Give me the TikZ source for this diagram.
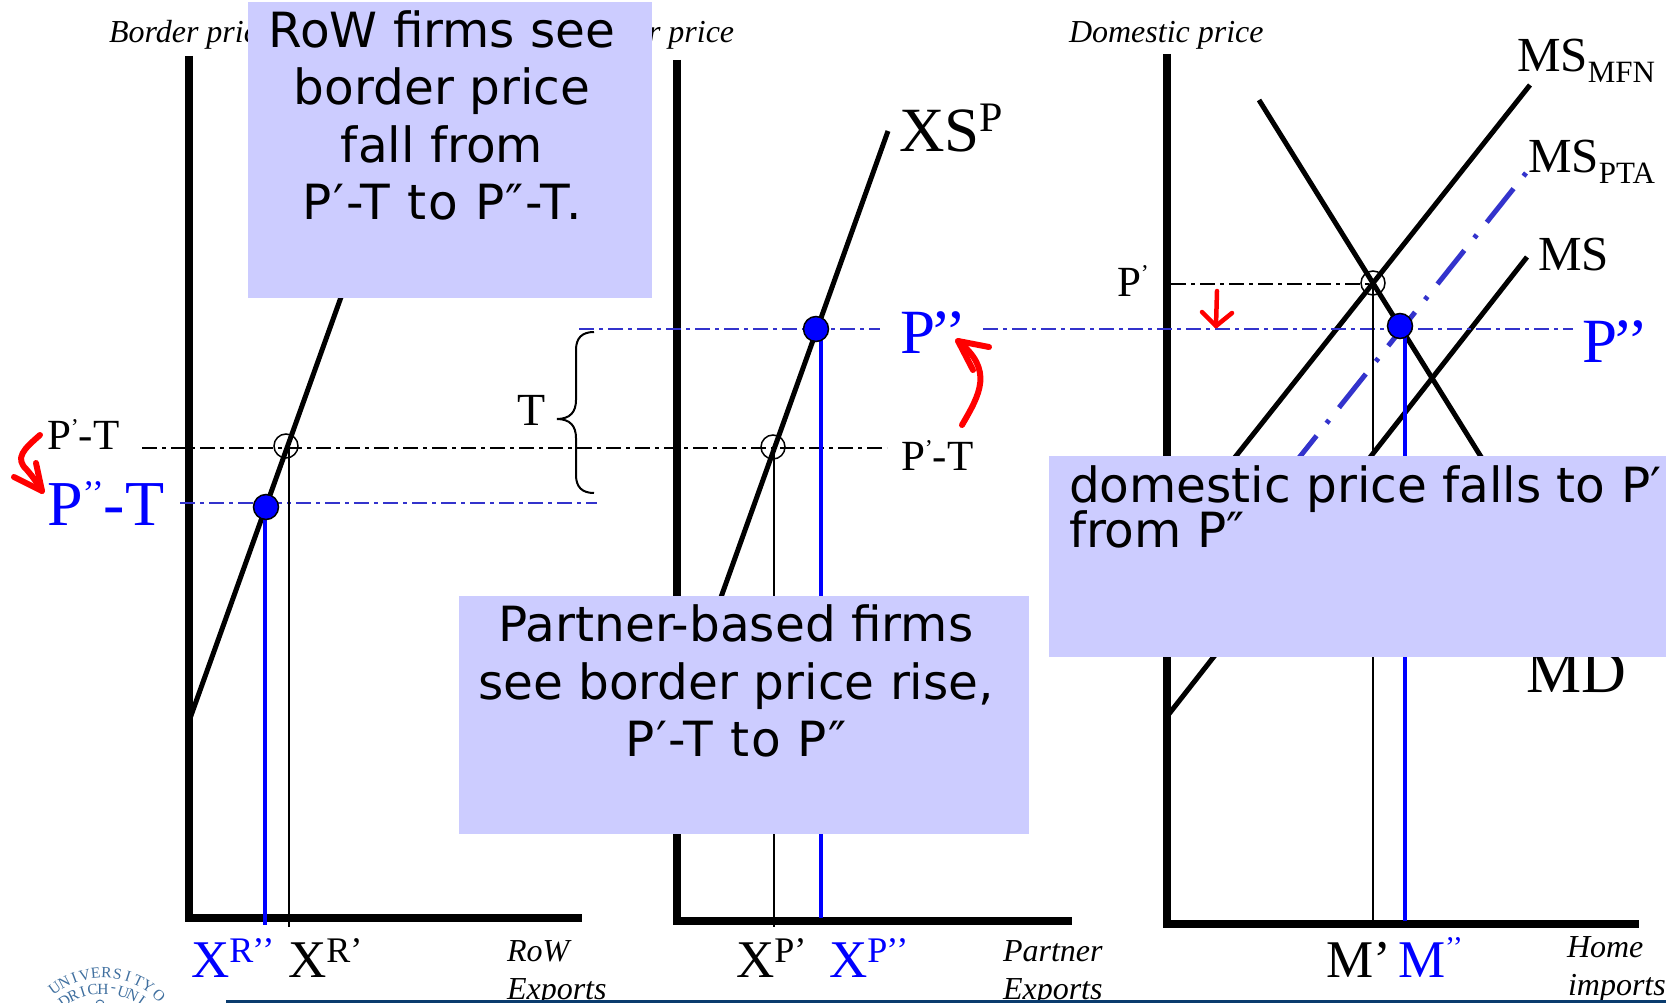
\documentclass[tikz,border=0pt]{standalone}
\usepackage{fontspec}
\setmainfont{Liberation Serif}
\newfontfamily\boxfont{DejaVu Sans}
\newcommand{\sz}[1]{\fontsize{#1}{#1}\selectfont}
\newcommand{\upmark}[3]{\raisebox{#1}{\sz{#2}#3}}
\definecolor{ddblue}{HTML}{3333CC}
\definecolor{boxfill}{HTML}{CCCCFF}
\definecolor{navy}{HTML}{0A3C6E}
\definecolor{logoblue}{HTML}{3F6F9F}
\tikzset{
  lab/.style={anchor=base west,inner sep=0pt,outer sep=0pt},
  axisline/.style={line width=8pt,line cap=butt,line join=miter},
  curve/.style={line width=5pt,line cap=butt},
  ddblack/.style={line width=2pt,dash pattern=on 15pt off 5pt on 4pt off 5pt},
  ddbluel/.style={line width=2pt,color=ddblue,dash pattern=on 15pt off 5pt on 4pt off 5pt},
  ptaline/.style={line width=5pt,color=ddblue,dash pattern=on 4pt off 16pt on 43pt off 16pt},
  vblack/.style={line width=2pt},
  vblue/.style={line width=4pt,color=blue},
  opendot/.style={circle,draw=black,line width=1.5pt,minimum size=24pt,inner sep=0pt},
  bluedot/.style={circle,draw=black,fill=blue,line width=1.5pt,minimum size=25pt,inner sep=0pt},
  redarrow/.style={draw=red,line width=6pt,line cap=round,line join=round},
  bluebox/.style={fill=boxfill,draw=none},
  boxtext/.style={inner sep=0pt,outer sep=0pt,font=\boxfont\sz{48.5}},
  logochar/.style={inner sep=0pt,text=logoblue,font=\sz{15.5}},
}
\begin{document}
\begin{tikzpicture}[x=1pt,y=-1pt]
\clip (0,0) rectangle (1666,1003);
\fill[white] (0,0) rectangle (1666,1003);

% logo
\foreach \c [count=\i] in {U,N,I,V,E,R,S,I,T,Y}{
  \pgfmathsetmacro{\a}{-35.5+7.6*(\i-1)}
  \node[logochar,rotate=-\a] (lo\i) at ({103+83*sin(\a)},{1056-83*cos(\a)}) {\c};
}
\node[logochar,rotate=-43] (loO) at ({103+82*sin(43)},{1056-82*cos(43)}) {O};
\foreach \c [count=\i] in {D,R,I,C,H,-,U,N,I}{
  \pgfmathsetmacro{\a}{-35+8.75*(\i-1)}
  \node[logochar,rotate=-\a] (li\i) at ({103+67*sin(\a)},{1056-67*cos(\a)}) {\c};
}
\draw[logoblue,line width=1pt] (100,1004) circle (4);

% axes
\draw[axisline] (189,56) -- (189,918) -- (582,918);
\draw[axisline] (677,60) -- (677,921) -- (1072,921);
\draw[axisline] (1167,54) -- (1167,924) -- (1639,924);

% supply / demand
\draw[curve] (188,724) -- (345,286);
\draw[curve] (677,720) -- (888,131);
\draw[curve] (1530,85) -- (1167,543);
\draw[curve] (1527,257) -- (1165,719);
\draw[curve] (1259,100) -- (1595,640);
\draw[ptaline] (1526,173) -- (1200,582);

% price lines
\draw[ddblack] (142,448) -- (887,448);
\draw[ddblack] (1171,284) -- (1373,284);
\draw[ddbluel] (180,503) -- (597,503);
\draw[ddbluel] (579,329) -- (880,329);
\draw[ddbluel] (983,329) -- (1573,329);

% drop lines
\draw[vblack] (289,448) -- (289,927);
\draw[vblue] (265,507) -- (265,925);
\draw[vblack] (774,447) -- (774,927);
\draw[vblue] (821,329) -- (821,918);
\draw[vblack] (1373,283) -- (1373,928);
\draw[vblue] (1405,330) -- (1405,921);

% dots
\node[opendot] (o1) at (286,446) {};
\node[opendot] (o2) at (773,447) {};
\node[opendot] (o3) at (1373,283) {};
\node[bluedot] (b1) at (266,507) {};
\node[bluedot] (b2) at (816,329) {};
\node[bluedot] (b3) at (1400,326) {};

% brace
\draw[line width=2pt] (594,332) .. controls (582,332) and (576,338) .. (576,350)
  -- (576,400) .. controls (576,412) and (570,419) .. (557,419)
  .. controls (570,419) and (576,426) .. (576,438)
  -- (576,475) .. controls (576,487) and (582,493) .. (594,493);

% red arrows
\draw[redarrow] (40,435) .. controls (24,449) and (14,458) .. (27,470) .. controls (33,477) and (38,484) .. (42,491);
\draw[redarrow] (14,477) -- (42,491) -- (36,463);
\draw[redarrow] (962,425) .. controls (980,394) and (994,370) .. (958,341);
\draw[redarrow] (989,347) -- (958,341) -- (973,370);
\draw[redarrow,line width=4.5pt] (1217,291) -- (1216,326);
\draw[redarrow,line width=4.5pt] (1202,312) -- (1216,326) -- (1232,313);

% axis captions
\node[lab,font=\itshape\sz{32}] (t1) at (109,43) {Border price};
\node[lab,font=\itshape\sz{32}] (t2) at (571,43) {Border price};
\node[lab,font=\itshape\sz{32}] (t3) at (1069,43) {Domestic price};
\node[lab,font=\itshape\sz{32}] (t4) at (507,961) {RoW};
\node[lab,font=\itshape\sz{32}] (t5) at (507,999) {Exports};
\node[lab,font=\itshape\sz{32}] (t6) at (1003,961) {Partner};
\node[lab,font=\itshape\sz{32}] (t7) at (1003,999) {Exports};
\node[lab,font=\itshape\sz{32}] (t8) at (1567,957) {Home};
\node[lab,font=\itshape\sz{32}] (t9) at (1568,995) {imports};

% price labels
\node[lab,font=\sz{43}] (p1) at (47,449) {P\upmark{14pt}{24}{’}-T};
\node[lab,font=\sz{64},text=blue] (p2) at (47,525) {P\upmark{20pt}{36}{’’}-T};
\node[lab,font=\sz{46}] (p3) at (517,425) {T};
\node[lab,font=\sz{43}] (p4) at (901,470) {P\upmark{14pt}{24}{’}-T};
\node[lab,font=\sz{63},text=blue] (p5) at (900,353) {P\kern-5pt’\kern-6pt’};
\node[lab,font=\sz{63},text=blue] (p6) at (1582,362) {P\kern-5pt’\kern-6pt’};
\node[lab,font=\sz{43}] (p7) at (1117,296) {P\upmark{14pt}{24}{’}};

% curve labels
\node[lab,font=\sz{63}] (c1) at (899,152) {XS\upmark{20pt}{42}{P}};
\node[lab,font=\sz{49}] (c2) at (1517,72) {MS\raisebox{-11pt}{\sz{31}MFN}};
\node[lab,font=\sz{49}] (c3) at (1528,173) {MS\raisebox{-11pt}{\sz{31}PTA}};
\node[lab,font=\sz{49}] (c4) at (1538,271) {MS};
\node[lab,font=\sz{62}] (c5) at (1526,692) {MD};

% quantity labels
\node[lab,font=\sz{53},text=blue] (q1) at (191,977) {X\upmark{15pt}{36}{R\kern-1pt’\kern-2pt’}};
\node[lab,font=\sz{53}] (q2) at (288,977) {X\upmark{15pt}{36}{R’}};
\node[lab,font=\sz{53}] (q3) at (736,977) {X\upmark{15pt}{36}{P’}};
\node[lab,font=\sz{53},text=blue] (q4) at (829,977) {X\upmark{15pt}{36}{P\kern-1pt’\kern-2pt’}};
\node[lab,font=\sz{53}] (q5) at (1326,977) {M’};
\node[lab,font=\sz{53},text=blue] (q6) at (1398,977) {M\upmark{20pt}{30}{’’}};

% callout boxes
\fill[bluebox] (248,2) rectangle (652,298);
\fill[bluebox] (459,596) rectangle (1029,834);
\fill[bluebox] (1049,456) rectangle (1666,657);

\node[boxtext,anchor=base] (a1) at (442,48) {RoW firms see};
\node[boxtext,anchor=base] (a2) at (442,105) {border price};
\node[boxtext,anchor=base] (a3) at (442,163) {fall from};
\node[boxtext,anchor=base] (a4) at (442,220) {\addfontfeature{LetterSpace=3.5}P′-T to P″-T.};
\node[boxtext,anchor=base] (b5) at (736,641) {Partner-based firms};
\node[boxtext,anchor=base] (b6) at (736,699) {see border price rise,};
\node[boxtext,anchor=base] (b7) at (736,756) {\addfontfeature{LetterSpace=3.5}P′-T to P″};
\node[boxtext,anchor=base west] (d1) at (1069,502) {domestic price falls to P′};
\node[boxtext,anchor=base west] (d2) at (1069,547) {from P″};

% footer rule
\draw[navy,line width=3pt] (226,1001.5) -- (1666,1001.5);
\end{tikzpicture}
\end{document}
